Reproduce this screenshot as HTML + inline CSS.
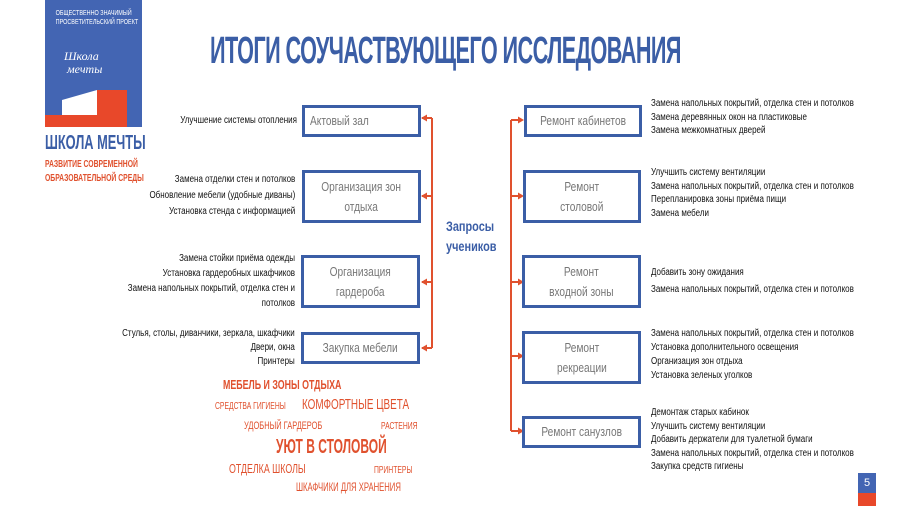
<!DOCTYPE html>
<html><head><meta charset="utf-8"><style>
*{margin:0;padding:0;box-sizing:border-box}
body{width:900px;height:506px;background:#fff;position:relative;overflow:hidden;font-family:"Liberation Sans","DejaVu Sans Condensed",sans-serif}
.a{position:absolute;white-space:nowrap}
.t{font-size:10px;line-height:13.6px;color:#111;transform:scaleX(0.8);transform-origin:left top}
.r{text-align:right;transform-origin:right top}
.box{position:absolute;border:3px solid #3b5ea6;background:#fff;color:#777;font-size:13px;line-height:20px;text-align:center;display:flex;align-items:center;justify-content:center}
.box span{display:inline-block;transform:scaleX(0.78);white-space:nowrap}
.o{color:#e0512e;font-weight:bold;transform:scaleX(0.68);transform-origin:left top}
</style></head><body>
<!-- logo -->
<svg class="a" style="left:45px;top:0" width="97" height="127">
<rect width="97" height="127" fill="#4365b3"/>
<polygon points="52,90 82,90 82,127 0,127 0,115 52,115" fill="#e8482a"/>
<polygon points="17,100 52,90 52,115 17,115" fill="#fff"/>
</svg>
<div class="a" style="left:45px;top:9px;width:97px;color:#fff;font-size:7px;line-height:9px;text-align:center;transform:scaleX(0.78)">ОБЩЕСТВЕННО ЗНАЧИМЫЙ<br>ПРОСВЕТИТЕЛЬСКИЙ ПРОЕКТ</div>
<div class="a" style="left:64px;top:50px;color:#fff;font-size:12px;line-height:13px;font-style:italic;font-family:'Liberation Serif',serif">Школа<br>&nbsp;мечты</div>
<div class="a" style="left:45px;top:132px;color:#3b5ea6;font-size:20px;font-weight:bold;transform:scaleX(0.64);transform-origin:left top">ШКОЛА МЕЧТЫ</div>
<div class="a" style="left:45px;top:157px;color:#e0512e;font-size:10.5px;font-weight:bold;line-height:14px;transform:scaleX(0.65);transform-origin:left top">РАЗВИТИЕ СОВРЕМЕННОЙ<br>ОБРАЗОВАТЕЛЬНОЙ СРЕДЫ</div>
<!-- title -->
<div class="a" style="left:210px;top:30px;color:#3b5ea6;font-size:38px;font-weight:bold;letter-spacing:-1px;line-height:42px;transform:scaleX(0.57);transform-origin:left top">ИТОГИ СОУЧАСТВУЮЩЕГО ИССЛЕДОВАНИЯ</div>
<!-- connectors -->
<svg class="a" style="left:0;top:0" width="900" height="506">
<g stroke="#e0512e" stroke-width="2" fill="#e0512e">
<line x1="432" y1="118" x2="432" y2="348"/>
<line x1="422" y1="118" x2="432" y2="118"/><line x1="422" y1="196" x2="432" y2="196"/><line x1="422" y1="282" x2="432" y2="282"/><line x1="422" y1="348" x2="432" y2="348"/>
<line x1="511" y1="120" x2="511" y2="431"/>
<line x1="511" y1="120" x2="520" y2="120"/><line x1="511" y1="196" x2="520" y2="196"/><line x1="511" y1="282" x2="520" y2="282"/><line x1="511" y1="356" x2="520" y2="356"/><line x1="511" y1="431" x2="520" y2="431"/>
</g>
<g fill="#e0512e">
<polygon points="421,118 427,114.5 427,121.5"/><polygon points="421,196 427,192.5 427,199.5"/><polygon points="421,282 427,278.5 427,285.5"/><polygon points="421,348 427,344.5 427,351.5"/>
<polygon points="524,120 518,116.5 518,123.5"/><polygon points="524,196 518,192.5 518,199.5"/><polygon points="524,282 518,278.5 518,285.5"/><polygon points="524,356 518,352.5 518,359.5"/><polygon points="524,431 518,427.5 518,434.5"/>
</g>
</svg>
<!-- left boxes -->
<div class="box" style="left:302px;top:105px;width:119px;height:32px;justify-content:flex-start;padding-left:5px"><span style="transform-origin:left">Актовый зал</span></div>
<div class="box" style="left:302px;top:170px;width:119px;height:53px"><span>Организация зон<br>отдыха</span></div>
<div class="box" style="left:301px;top:255px;width:119px;height:53px"><span>Организация<br>гардероба</span></div>
<div class="box" style="left:301px;top:332px;width:119px;height:32px"><span>Закупка мебели</span></div>
<!-- right boxes -->
<div class="box" style="left:524px;top:105px;width:118px;height:32px"><span>Ремонт кабинетов</span></div>
<div class="box" style="left:523px;top:170px;width:118px;height:53px"><span>Ремонт<br>столовой</span></div>
<div class="box" style="left:522px;top:255px;width:119px;height:53px"><span>Ремонт<br>входной зоны</span></div>
<div class="box" style="left:522px;top:331px;width:119px;height:53px"><span>Ремонт<br>рекреации</span></div>
<div class="box" style="left:522px;top:416px;width:119px;height:32px"><span>Ремонт санузлов</span></div>
<div class="a" style="left:446px;top:216px;color:#3b5ea6;font-size:14px;font-weight:bold;line-height:20px;transform:scaleX(0.78);transform-origin:left top">Запросы<br>учеников</div>
<!-- left texts -->
<div class="a t r" style="right:603px;top:114px">Улучшение системы отопления</div>
<div class="a t r" style="right:605px;top:172px;line-height:16px">Замена отделки стен и потолков<br>Обновление мебели (удобные диваны)<br>Установка стенда с информацией</div>
<div class="a t r" style="right:605px;top:251px;line-height:15px">Замена стойки приёма одежды<br>Установка гардеробных шкафчиков<br>Замена напольных покрытий, отделка стен и<br>потолков</div>
<div class="a t r" style="right:605px;top:327px;line-height:14px">Стулья, столы, диванчики, зеркала, шкафчики<br>Двери, окна<br>Принтеры</div>
<!-- right texts -->
<div class="a t" style="left:651px;top:97px">Замена напольных покрытий, отделка стен и потолков<br>Замена деревянных окон на пластиковые<br>Замена межкомнатных дверей</div>
<div class="a t" style="left:651px;top:166px">Улучшить систему вентиляции<br>Замена напольных покрытий, отделка стен и потолков<br>Перепланировка зоны приёма пищи<br>Замена мебели</div>
<div class="a t" style="left:651px;top:264px;line-height:17px">Добавить зону ожидания<br>Замена напольных покрытий, отделка стен и потолков</div>
<div class="a t" style="left:651px;top:327px;line-height:14px">Замена напольных покрытий, отделка стен и потолков<br>Установка дополнительного освещения<br>Организация зон отдыха<br>Установка зеленых уголков</div>
<div class="a t" style="left:651px;top:406px">Демонтаж старых кабинок<br>Улучшить систему вентиляции<br>Добавить держатели для туалетной бумаги<br>Замена напольных покрытий, отделка стен и потолков<br>Закупка средств гигиены</div>
<!-- word cloud -->
<div class="a o" style="left:223px;top:377px;font-size:13px">МЕБЕЛЬ И ЗОНЫ ОТДЫХА</div>
<div class="a o" style="left:215px;top:401px;font-size:10px;font-weight:normal">СРЕДСТВА ГИГИЕНЫ</div>
<div class="a o" style="left:302px;top:396px;font-size:15px;font-weight:normal;transform:scaleX(0.66)">КОМФОРТНЫЕ ЦВЕТА</div>
<div class="a o" style="left:244px;top:420px;font-size:11px;font-weight:normal">УДОБНЫЙ ГАРДЕРОБ</div>
<div class="a o" style="left:381px;top:421px;font-size:10px;font-weight:normal">РАСТЕНИЯ</div>
<div class="a o" style="left:276px;top:436px;font-size:20px;transform:scaleX(0.6)">УЮТ В СТОЛОВОЙ</div>
<div class="a o" style="left:229px;top:461px;font-size:13px;font-weight:normal">ОТДЕЛКА ШКОЛЫ</div>
<div class="a o" style="left:374px;top:465px;font-size:10px;font-weight:normal">ПРИНТЕРЫ</div>
<div class="a o" style="left:296px;top:480px;font-size:12px;font-weight:normal;transform:scaleX(0.64)">ШКАФЧИКИ ДЛЯ ХРАНЕНИЯ</div>
<!-- page number -->
<div class="a" style="left:858px;top:473px;width:18px;height:20px;background:#4365b3;color:#fff;font-size:11px;text-align:center;line-height:20px">5</div>
<div class="a" style="left:858px;top:493px;width:18px;height:13px;background:#e8482a"></div>
</body></html>
